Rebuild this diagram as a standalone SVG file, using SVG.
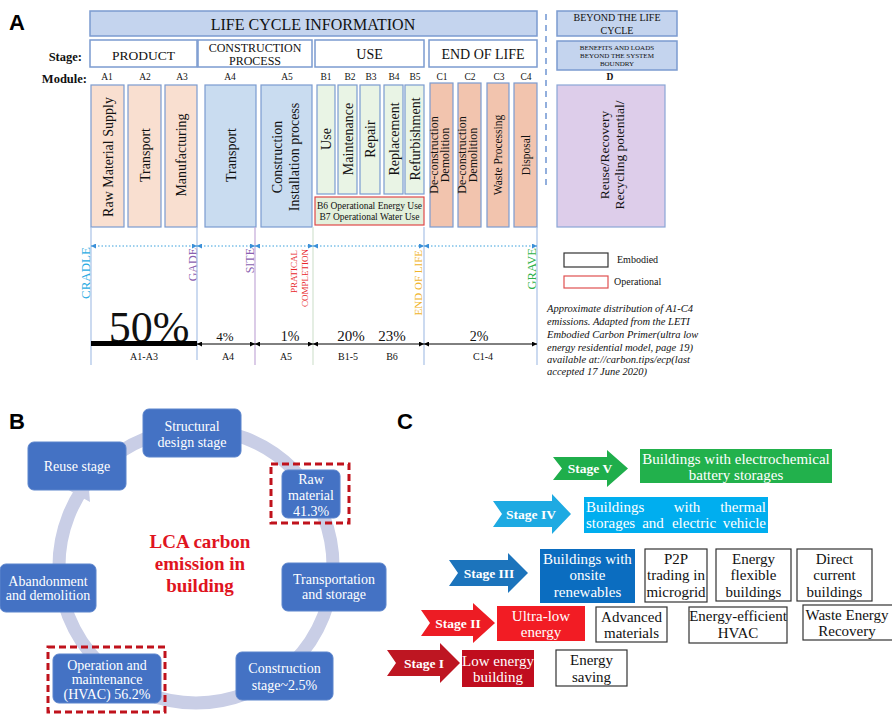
<svg xmlns="http://www.w3.org/2000/svg" width="892" height="715" viewBox="0 0 892 715">
<defs>
<style>
.s{font-family:"Liberation Serif","Times New Roman",serif;}
.pl{font-family:"Liberation Sans",Arial,sans-serif;font-weight:bold;font-size:22px;fill:#000;}
.hdr{fill:#c4d4ee;stroke:#7b9bd0;stroke-width:1.5;}
.stg{fill:#fff;stroke:#7b9bd0;stroke-width:1.5;}
.ma{fill:#f9dfd0;stroke:#7b9bd0;stroke-width:1.2;}
.mc{fill:#c9dcf0;stroke:#7b9bd0;stroke-width:1.2;}
.mb{fill:#e9f4e5;stroke:#7b9bd0;stroke-width:1.2;}
.me{fill:#f2c4ae;stroke:#7b9bd0;stroke-width:1.2;}
.md{fill:#ddcdea;stroke:#8aa6d6;stroke-width:1.2;}
.mt{font-size:14px;fill:#111;}
.ml{font-size:9.5px;fill:#111;}
.vl{stroke:#a9c1e6;stroke-width:1.2;fill:none;}
.bn{fill:#4472c4;stroke:#5b84cc;stroke-width:1;}
.bt{font-size:14px;fill:#fff;}
.ct{font-size:15px;fill:#fff;}
.kt{font-size:15px;fill:#111;}
.wb{fill:#fff;stroke:#333;stroke-width:1.2;}
.st{font-size:13.5px;font-weight:bold;fill:#fff;}
</style>
<marker id="ab" viewBox="0 0 6 6" refX="6" refY="3" markerWidth="5" markerHeight="5" orient="auto-start-reverse"><path d="M0,0 L6,3 L0,6 z" fill="#3a8fd8"/></marker>
<marker id="ak" viewBox="0 0 6 6" refX="6" refY="3" markerWidth="5" markerHeight="5" orient="auto-start-reverse"><path d="M0,0 L6,3 L0,6 z" fill="#000"/></marker>
</defs>
<rect width="892" height="715" fill="#fff"/>

<!-- Panel labels -->
<text class="pl" x="9" y="30">A</text>
<text class="pl" x="9" y="429">B</text>
<text class="pl" x="397" y="429">C</text>

<!-- ===== Panel A ===== -->
<g id="a-header">
<rect class="hdr" x="90" y="11" width="447" height="25"/>
<text class="s" x="313" y="30" font-size="16" text-anchor="middle" fill="#111">LIFE CYCLE INFORMATION</text>
</g>
<g id="a-beyond">
<rect class="hdr" x="557" y="11" width="120" height="25"/>
<text class="s" x="617" y="21" font-size="10" text-anchor="middle" fill="#111">BEYOND THE LIFE</text>
<text class="s" x="617" y="34" font-size="10" text-anchor="middle" fill="#111">CYCLE</text>
</g>
<g id="a-benefits">
<rect class="hdr" x="557" y="41" width="120" height="29"/>
<text class="s" x="617" y="50" font-size="7" text-anchor="middle" fill="#111">BENEFITS AND LOADS</text>
<text class="s" x="617" y="58" font-size="7" text-anchor="middle" fill="#111">BEYOND THE SYSTEM</text>
<text class="s" x="617" y="66" font-size="7" text-anchor="middle" fill="#111">BOUNDRY</text>
</g>
<line x1="546" y1="14" x2="546" y2="190" stroke="#6f95d2" stroke-width="1.5" stroke-dasharray="6,5"/>

<text class="s" x="82" y="61" font-size="12.5" font-weight="bold" text-anchor="end" fill="#111">Stage:</text>
<text class="s" x="87" y="83" font-size="12.5" font-weight="bold" text-anchor="end" fill="#111">Module:</text>

<g id="a-stage-product"><rect class="stg" x="90" y="40" width="107" height="27"/><text class="s" x="143.5" y="60" font-size="13.5" text-anchor="middle" fill="#111">PRODUCT</text></g>
<g id="a-stage-construction"><rect class="stg" x="198" y="40" width="114" height="27"/><text class="s" x="255" y="52" font-size="12" text-anchor="middle" fill="#111">CONSTRUCTION</text><text class="s" x="255" y="65" font-size="12" text-anchor="middle" fill="#111">PROCESS</text></g>
<g id="a-stage-use"><rect class="stg" x="315" y="40" width="109" height="27"/><text class="s" x="369.5" y="59" font-size="14" text-anchor="middle" fill="#111">USE</text></g>
<g id="a-stage-eol"><rect class="stg" x="429" y="40" width="108" height="27"/><text class="s" x="483" y="59" font-size="14" text-anchor="middle" fill="#111">END OF LIFE</text></g>

<g class="s ml" text-anchor="middle">
<text x="107" y="80">A1</text><text x="145" y="80">A2</text><text x="182" y="80">A3</text>
<text x="230" y="80">A4</text><text x="287" y="80">A5</text>
<text x="326" y="80">B1</text><text x="350" y="80">B2</text><text x="371" y="80">B3</text><text x="394" y="80">B4</text><text x="415" y="80">B5</text>
<text x="442" y="80">C1</text><text x="470" y="80">C2</text><text x="499" y="80">C3</text><text x="526" y="80">C4</text>
<text x="610" y="80" font-weight="bold">D</text>
</g>

<g id="m-a1"><rect class="ma" x="91" y="85" width="33" height="142"/><text class="s mt" transform="translate(112.5,157) rotate(-90)" text-anchor="middle">Raw Material Supply</text></g>
<g id="m-a2"><rect class="ma" x="128" y="85" width="33" height="142"/><text class="s mt" transform="translate(149.5,155) rotate(-90)" text-anchor="middle">Transport</text></g>
<g id="m-a3"><rect class="ma" x="165" y="85" width="32" height="142"/><text class="s mt" transform="translate(186,155) rotate(-90)" text-anchor="middle">Manufacturing</text></g>
<g id="m-a4"><rect class="mc" x="205" y="85" width="51" height="142"/><text class="s mt" transform="translate(235.5,155) rotate(-90)" text-anchor="middle">Transport</text></g>
<g id="m-a5"><rect class="mc" x="261" y="85" width="51" height="142"/><text class="s mt" transform="translate(282,157) rotate(-90)" text-anchor="middle"><tspan x="0" y="0">Construction</tspan><tspan x="0" y="17">Installation process</tspan></text></g>
<g id="m-b1"><rect class="mb" x="317" y="85" width="18" height="109"/><text class="s mt" transform="translate(331,139) rotate(-90)" text-anchor="middle">Use</text></g>
<g id="m-b2"><rect class="mb" x="338" y="85" width="19" height="109"/><text class="s mt" transform="translate(352.5,139) rotate(-90)" text-anchor="middle">Maintenance</text></g>
<g id="m-b3"><rect class="mb" x="360" y="85" width="20" height="109"/><text class="s mt" transform="translate(375,139) rotate(-90)" text-anchor="middle">Repair</text></g>
<g id="m-b4"><rect class="mb" x="384" y="85" width="19" height="109"/><text class="s mt" transform="translate(398.5,139) rotate(-90)" text-anchor="middle">Replacement</text></g>
<g id="m-b5"><rect class="mb" x="405" y="85" width="19" height="109"/><text class="s mt" transform="translate(419.5,139) rotate(-90)" text-anchor="middle">Refurbishment</text></g>
<g id="m-b67"><rect x="315" y="197" width="109" height="28" fill="#e3f0dc" stroke="#e04848" stroke-width="1.2"/><text class="s" x="369.5" y="209" font-size="9.5" text-anchor="middle" fill="#111">B6 Operational Energy Use</text><text class="s" x="369.5" y="220" font-size="9.5" text-anchor="middle" fill="#111">B7 Operational Water Use</text></g>
<g id="m-c1"><rect class="me" x="430" y="83" width="23" height="144"/><text class="s" font-size="12" fill="#111" transform="translate(438,155) rotate(-90)" text-anchor="middle"><tspan x="0" y="0">De-construction</tspan><tspan x="0" y="11">Demolition</tspan></text></g>
<g id="m-c2"><rect class="me" x="458" y="83" width="23" height="144"/><text class="s" font-size="12" fill="#111" transform="translate(466,155) rotate(-90)" text-anchor="middle"><tspan x="0" y="0">De-construction</tspan><tspan x="0" y="11">Demolition</tspan></text></g>
<g id="m-c3"><rect class="me" x="487" y="83" width="22" height="144"/><text class="s" font-size="11.5" fill="#111" transform="translate(502,155) rotate(-90)" text-anchor="middle">Waste Processing</text></g>
<g id="m-c4"><rect class="me" x="514" y="83" width="23" height="144"/><text class="s" font-size="11.5" fill="#111" transform="translate(529.5,155) rotate(-90)" text-anchor="middle">Disposal</text></g>
<g id="m-d"><rect class="md" x="557" y="85" width="108" height="142"/><text class="s" font-size="13.5" fill="#111" transform="translate(609,155) rotate(-90)" text-anchor="middle"><tspan x="0" y="0">Reuse/Recovery</tspan><tspan x="0" y="15">Recycling potential/</tspan></text></g>

<!-- milestone labels -->
<g class="s" text-anchor="end">
<text transform="translate(89.5,247) rotate(-90)" font-size="13" fill="#29abe2">CRADLE</text>
<text transform="translate(197,248) rotate(-90)" font-size="12" fill="#8b5fb0">GADE</text>
<text transform="translate(253.5,248) rotate(-90)" font-size="12" fill="#8b5fb0">SITE</text>
<text transform="translate(297,250) rotate(-90)" font-size="9" fill="#e8262b">PRATICAL</text>
<text transform="translate(308,249) rotate(-90)" font-size="9" fill="#e8262b">COMPLETION</text>
<text transform="translate(422,250) rotate(-90)" font-size="11" fill="#f0b429">END OF LIFE</text>
<text transform="translate(536,248) rotate(-90)" font-size="12.5" fill="#2db24a">GRAVE</text>
</g>

<g class="s" text-anchor="middle" fill="#111">
<text x="149" y="342" font-size="44">50%</text>
<text x="225" y="341" font-size="13">4%</text>
<text x="290" y="341" font-size="14">1%</text>
<text x="351" y="341" font-size="15">20%</text>
<text x="392" y="341" font-size="15">23%</text>
<text x="479" y="341" font-size="14">2%</text>
<text x="144" y="360" font-size="10">A1-A3</text>
<text x="228" y="360" font-size="10">A4</text>
<text x="286" y="360" font-size="10">A5</text>
<text x="348" y="360" font-size="10">B1-5</text>
<text x="392" y="360" font-size="10">B6</text>
<text x="483" y="360" font-size="10">C1-4</text>
</g>

<g id="a-legend">
<rect x="564" y="253" width="44" height="14" fill="#fff" stroke="#333" stroke-width="1.2"/>
<text class="s" x="617" y="263" font-size="10" fill="#111">Embodied</text>
<rect x="564" y="276" width="44" height="12" fill="#fff" stroke="#e05050" stroke-width="1.2"/>
<text class="s" x="614" y="285" font-size="10" fill="#111">Operational</text>
</g>
<g id="a-note" class="s" font-size="10.5" font-style="italic" fill="#111">
<text x="547" y="312">Approximate distribution of A1-C4</text>
<text x="547" y="325">emissions. Adapted from the LETI</text>
<text x="547" y="338">Embodied Carbon Primer(ultra low</text>
<text x="547" y="351">energy residential model, page 19)</text>
<text x="547" y="363">available at://carbon.tips/ecp(last</text>
<text x="547" y="375">accepted 17 June 2020)</text>
</g>

<g id="connectors">
<!-- panel A vertical milestone lines -->
<line class="vl" x1="91" y1="227" x2="91" y2="365"/>
<line class="vl" x1="197" y1="227" x2="197" y2="360"/>
<line x1="255" y1="227" x2="255" y2="365" stroke="#c3a9d8" stroke-width="1.2"/>
<line x1="313" y1="227" x2="313" y2="365" stroke="#d3e3d0" stroke-width="1.2"/>
<line class="vl" x1="424" y1="227" x2="424" y2="365" stroke="#c6d9ea"/>
<line class="vl" x1="537" y1="227" x2="537" y2="365" stroke="#c6d9ea"/>
<!-- dotted timeline -->
<g stroke="#3aa0dc" stroke-width="1" stroke-dasharray="1.5,2" fill="none">
<line x1="91" y1="246" x2="197" y2="246" marker-start="url(#ab)" marker-end="url(#ab)"/>
<line x1="197" y1="246" x2="255" y2="246" marker-start="url(#ab)" marker-end="url(#ab)"/>
<line x1="255" y1="246" x2="313" y2="246" marker-start="url(#ab)" marker-end="url(#ab)"/>
<line x1="313" y1="246" x2="424" y2="246" marker-start="url(#ab)" marker-end="url(#ab)"/>
<line x1="424" y1="246" x2="537" y2="246" marker-start="url(#ab)" marker-end="url(#ab)"/>
</g>
<!-- distribution bar -->
<rect x="91" y="341" width="106" height="5" fill="#000"/>
<g stroke="#000" stroke-width="1" fill="none">
<line x1="197" y1="344" x2="255" y2="344" marker-start="url(#ak)" marker-end="url(#ak)"/>
<line x1="255" y1="344" x2="313" y2="344" marker-start="url(#ak)" marker-end="url(#ak)"/>
<line x1="313" y1="344" x2="424" y2="344" marker-start="url(#ak)" marker-end="url(#ak)"/>
<line x1="424" y1="344" x2="537" y2="344" marker-start="url(#ak)" marker-end="url(#ak)"/>
</g>
<!-- panel B cycle ring -->
<circle cx="196" cy="566" r="137" fill="none" stroke="#c9cee6" stroke-width="13"/>
<polygon points="65,488 90,502 88,477" fill="#c9cee6"/>
</g>

<!-- ===== Panel B nodes ===== -->
<text id="b-center" class="s" font-size="19" font-weight="bold" fill="#e0141e" text-anchor="middle"><tspan x="200" y="548">LCA carbon</tspan><tspan x="200" y="570">emission in</tspan><tspan x="200" y="592">building</tspan></text>

<g id="b-structural"><rect class="bn" x="143" y="409" width="98" height="48" rx="6"/><text class="s bt" text-anchor="middle"><tspan x="192" y="431">Structural</tspan><tspan x="192" y="447">design stage</tspan></text></g>
<g id="b-reuse"><rect class="bn" x="28" y="442" width="98" height="48" rx="6"/><text class="s bt" x="77" y="471" text-anchor="middle">Reuse stage</text></g>
<g id="b-raw"><rect x="271" y="464" width="78" height="59" fill="none" stroke="#c0121c" stroke-width="3" stroke-dasharray="7,4"/><rect class="bn" x="282" y="470" width="58" height="48" rx="6"/><text class="s bt" text-anchor="middle"><tspan x="311" y="484">Raw</tspan><tspan x="311" y="500">material</tspan><tspan x="311" y="516">41.3%</tspan></text></g>
<g id="b-transport"><rect class="bn" x="282" y="563" width="104" height="48" rx="6"/><text class="s bt" text-anchor="middle"><tspan x="334" y="584">Transportation</tspan><tspan x="334" y="599">and storage</tspan></text></g>
<g id="b-abandon"><rect class="bn" x="0" y="564" width="96" height="48" rx="6"/><text class="s bt" text-anchor="middle"><tspan x="48" y="586">Abandonment</tspan><tspan x="48" y="600">and demolition</tspan></text></g>
<g id="b-construction"><rect class="bn" x="236" y="652" width="97" height="48" rx="6"/><text class="s bt" text-anchor="middle"><tspan x="284.5" y="673">Construction</tspan><tspan x="284.5" y="690">stage~2.5%</tspan></text></g>
<g id="b-operation"><rect x="48" y="647" width="117" height="65" fill="none" stroke="#c0121c" stroke-width="3" stroke-dasharray="7,4"/><rect class="bn" x="53" y="654" width="108" height="49" rx="6"/><text class="s bt" text-anchor="middle"><tspan x="107" y="670">Operation and</tspan><tspan x="107" y="684">maintenance</tspan><tspan x="107" y="699">(HVAC) 56.2%</tspan></text></g>

<!-- ===== Panel C ===== -->
<g id="c-stage5">
<polygon points="553,457 607,457 607,450 628,468.5 607,487 607,480 553,480 562,468.5" fill="#1fae4b"/>
<text class="s st" x="590" y="473" text-anchor="middle">Stage V</text>
</g>
<g id="c-box5"><rect x="640" y="449" width="192" height="34" fill="#22b14c"/><text class="s ct" text-anchor="middle"><tspan x="736" y="464">Buildings with electrochemical</tspan><tspan x="736" y="480">battery storages</tspan></text></g>

<g id="c-stage4">
<polygon points="493,501 552,501 552,494 571,514 552,534 552,527 493,527 502,514" fill="#1eaae2"/>
<text class="s st" x="531" y="519" text-anchor="middle">Stage IV</text>
</g>
<g id="c-box4"><rect x="584" y="497" width="184" height="36" fill="#00aeef"/>
<text class="s ct"><tspan x="586" y="512">Buildings</tspan><tspan x="687" y="512" text-anchor="middle">with</tspan><tspan x="766" y="512" text-anchor="end">thermal</tspan><tspan x="586" y="528">storages</tspan><tspan x="653" y="528" text-anchor="middle">and</tspan><tspan x="694" y="528" text-anchor="middle">electric</tspan><tspan x="766" y="528" text-anchor="end">vehicle</tspan></text></g>

<g id="c-stage3">
<polygon points="449,560 508,560 508,553 528,573 508,593 508,586 449,586 458,573" fill="#1c74bc"/>
<text class="s st" x="489" y="578" text-anchor="middle">Stage III</text>
</g>
<g id="c-box3"><rect x="540" y="549" width="95" height="54" fill="#0b6dc0"/><text class="s ct" text-anchor="middle"><tspan x="587.5" y="564">Buildings with</tspan><tspan x="587.5" y="580">onsite</tspan><tspan x="587.5" y="597">renewables</tspan></text></g>
<g id="c-p2p"><rect class="wb" x="645" y="549" width="62" height="53"/><text class="s kt" text-anchor="middle"><tspan x="676" y="564">P2P</tspan><tspan x="676" y="580">trading in</tspan><tspan x="676" y="597">microgrid</tspan></text></g>
<g id="c-flex"><rect class="wb" x="716" y="549" width="75" height="52"/><text class="s kt" text-anchor="middle"><tspan x="753.5" y="564">Energy</tspan><tspan x="753.5" y="580">flexible</tspan><tspan x="753.5" y="597">buildings</tspan></text></g>
<g id="c-dc"><rect class="wb" x="797" y="549" width="75" height="52"/><text class="s kt" text-anchor="middle"><tspan x="834.5" y="564">Direct</tspan><tspan x="834.5" y="580">current</tspan><tspan x="834.5" y="597">buildings</tspan></text></g>

<g id="c-stage2">
<polygon points="421,610 473,610 473,603 495,623 473,643 473,636 421,636 430,623" fill="#ed1c24"/>
<text class="s st" x="458" y="628" text-anchor="middle">Stage II</text>
</g>
<g id="c-box2"><rect x="497" y="606" width="88" height="35" fill="#f21c24"/><text class="s ct" text-anchor="middle"><tspan x="541" y="621">Ultra-low</tspan><tspan x="541" y="637">energy</tspan></text></g>
<g id="c-adv"><rect class="wb" x="596" y="607" width="71" height="35"/><text class="s kt" text-anchor="middle"><tspan x="631.5" y="622">Advanced</tspan><tspan x="631.5" y="638">materials</tspan></text></g>
<g id="c-hvac"><rect class="wb" x="689" y="607" width="98" height="36"/><text class="s kt" text-anchor="middle"><tspan x="738" y="621">Energy-efficient</tspan><tspan x="738" y="638">HVAC</tspan></text></g>
<g id="c-waste"><rect class="wb" x="803" y="605" width="95" height="35"/><text class="s kt" text-anchor="middle"><tspan x="847" y="620">Waste Energy</tspan><tspan x="847" y="636">Recovery</tspan></text></g>

<g id="c-stage1">
<polygon points="387,650 440,650 440,643 460,663 440,683 440,676 387,676 396,663" fill="#be1622"/>
<text class="s st" x="424" y="668" text-anchor="middle">Stage I</text>
</g>
<g id="c-box1"><rect x="462" y="650" width="72" height="37" fill="#c00d1e"/><text class="s ct" text-anchor="middle"><tspan x="498" y="666">Low energy</tspan><tspan x="498" y="682">building</tspan></text></g>
<g id="c-saving"><rect class="wb" x="556" y="650" width="71" height="36"/><text class="s kt" text-anchor="middle"><tspan x="591.5" y="665">Energy</tspan><tspan x="591.5" y="682">saving</tspan></text></g>
</svg>
